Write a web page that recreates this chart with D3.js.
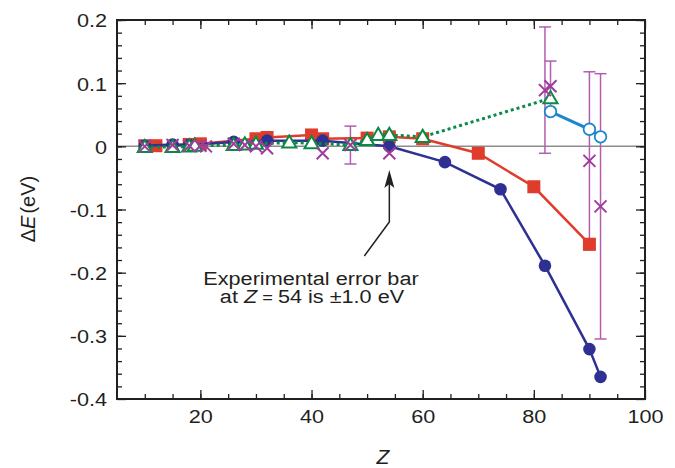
<!DOCTYPE html>
<html>
<head>
<meta charset="utf-8">
<script src="https://cdn.jsdelivr.net/npm/d3@7/dist/d3.min.js"></script>
<style>
    body { margin: 0; background: #fff; }
    text { font-family: "Liberation Sans", Arial, Helvetica, sans-serif; fill: #231f20; }
</style>
</head>
<body>
<div id="chart"></div>
<script>
// ---- data ----
var redZ   = [10, 12, 18, 20, 30, 32, 40, 42, 50, 54, 60, 70, 80, 90];
var redE   = [0.001, 0.001, 0.003, 0.004, 0.012, 0.014, 0.018, 0.012, 0.013, 0.015, 0.012, -0.011, -0.064, -0.155];

var blueZ  = [10, 15, 18, 26, 32, 42, 54, 64, 74, 82, 90, 92];
var blueE  = [0.001, 0.003, 0.002, 0.007, 0.009, 0.009, 0.0, -0.025, -0.068, -0.189, -0.321, -0.365];

var greenZ = [10, 15, 18, 19, 26, 28, 30, 36, 40, 47, 50, 52, 54, 60, 83];
var greenE = [-0.001, -0.001, 0.0, 0.001, 0.002, 0.003, 0.004, 0.006, 0.005, 0.002, 0.010, 0.018, 0.018, 0.015, 0.076];

var cyanZ  = [83, 90, 92];
var cyanE  = [0.055, 0.027, 0.015];

var crossZ   = [10, 15, 18, 20, 21, 26, 28, 30, 32, 42, 47, 54, 82, 83, 90, 92];
var crossE   = [0.0, 0.002, 0.001, 0.001, 0.0, 0.004, 0.002, 0.0, -0.003, -0.011, 0.002, -0.011, 0.089, 0.095, -0.023, -0.095];
var crossErr = [0, 0, 0, 0, 0, 0, 0, 0, 0, 0, 0.03, 0, 0.1, 0.04, 0.141, 0.21];

var xMajor = [20, 40, 60, 80, 100];
var yMajor = [-0.4, -0.3, -0.2, -0.1, 0, 0.1, 0.2];
var yLabels = ["-0.4", "-0.3", "-0.2", "-0.1", "0", "0.1", "0.2"];

// ---- layout ----
var W = 675, H = 468;
var margins = { left: 117, right: 645, top: 20, bottom: 399 };
var K = 1.14;   // the figure's lettering is a bit wider than Arial

var svg = d3.select("#chart").append("svg")
    .attr("width", W).attr("height", H);

var x = d3.scaleLinear().domain([5, 100]).range([margins.left, margins.right]);
var y = d3.scaleLinear().domain([-0.4, 0.2]).range([margins.bottom, margins.top]);

function pairs(zs, es) { return zs.map(function (z, i) { return { z: z, e: es[i], i: i }; }); }

// widen a text horizontally around its own anchor point
function widen(sel, k) {
    sel.each(function () {
        var t = d3.select(this);
        var px = +t.attr("x") || 0;
        t.attr("x", px / k).attr("transform", "scale(" + k + ",1)");
    });
}

// zero line
svg.append("line")
    .attr("x1", margins.left).attr("x2", margins.right)
    .attr("y1", y(0)).attr("y2", y(0))
    .attr("stroke", "#8c8c8c").attr("stroke-width", 1.5);

// ---- axes (ticks point inward on all four sides) ----
var minorX = d3.range(10, 100, 5);
var minorY = d3.range(-0.38, 0.2, 0.02).map(function (v) { return +v.toFixed(2); });
var fmtY = function (d) { return yLabels[yMajor.indexOf(d)]; };

function addAxis(axisFn, scale, values, size, fmt, transform) {
    var a = axisFn(scale).tickValues(values).tickSize(-size).tickSizeOuter(0);
    if (fmt) a.tickFormat(fmt); else a.tickFormat("");
    var g = svg.append("g").attr("transform", transform).call(a);
    g.select(".domain").remove();
    g.selectAll(".tick line").attr("stroke", "#231f20").attr("stroke-width", 1.3);
    return g;
}

addAxis(d3.axisBottom, x, minorX, 5, null, "translate(0," + margins.bottom + ")");
addAxis(d3.axisTop, x, minorX, 5, null, "translate(0," + margins.top + ")");
addAxis(d3.axisLeft, y, minorY, 5, null, "translate(" + margins.left + ",0)");
addAxis(d3.axisRight, y, minorY, 5, null, "translate(" + margins.right + ",0)");

var gx = addAxis(d3.axisBottom, x, xMajor, 9, function (d) { return d; }, "translate(0," + margins.bottom + ")");
gx.selectAll("text").attr("font-size", 19).attr("y", 11).attr("dy", "0.71em")
    .attr("font-family", null).attr("fill", "#231f20").call(widen, K);
addAxis(d3.axisTop, x, xMajor, 9, null, "translate(0," + margins.top + ")");

var gy = addAxis(d3.axisLeft, y, yMajor, 9, fmtY, "translate(" + margins.left + ",0)");
gy.selectAll("text").attr("font-size", 19).attr("x", -10).attr("dy", "0.36em")
    .attr("fill", "#231f20").call(widen, K);
addAxis(d3.axisRight, y, yMajor, 9, null, "translate(" + margins.right + ",0)");
svg.selectAll(".tick text").attr("font-family", null);
svg.selectAll("g").attr("font-family", null).attr("font-size", null);

// frame
svg.append("rect")
    .attr("x", margins.left).attr("y", margins.top)
    .attr("width", margins.right - margins.left).attr("height", margins.bottom - margins.top)
    .attr("fill", "none").attr("stroke", "#231f20").attr("stroke-width", 2);

// ---- error bars ----
var errData = pairs(crossZ, crossE).filter(function (d) { return crossErr[d.i] > 0; });
var eb = svg.append("g").attr("stroke", "#b45cb0").attr("stroke-width", 1.5).attr("fill", "none");
errData.forEach(function (d) {
    var lo = y(d.e - crossErr[d.i]), hi = y(d.e + crossErr[d.i]), cx = x(d.z);
    eb.append("line").attr("x1", cx).attr("x2", cx).attr("y1", hi).attr("y2", lo);
    eb.append("line").attr("x1", cx - 6).attr("x2", cx + 6).attr("y1", hi).attr("y2", hi);
    eb.append("line").attr("x1", cx - 6).attr("x2", cx + 6).attr("y1", lo).attr("y2", lo);
});

var line = d3.line().x(function (d) { return x(d.z); }).y(function (d) { return y(d.e); });

// red squares
var red = pairs(redZ, redE);
svg.append("path").datum(red).attr("d", line)
    .attr("fill", "none").attr("stroke", "#e03c2b").attr("stroke-width", 2.5);
svg.selectAll(".sq").data(red).join("rect").attr("class", "sq")
    .attr("x", function (d) { return x(d.z) - 6.5; })
    .attr("y", function (d) { return y(d.e) - 6.5; })
    .attr("width", 13).attr("height", 13)
    .attr("fill", "#e03c2b");

// blue filled circles
var blue = pairs(blueZ, blueE);
svg.append("path").datum(blue).attr("d", line)
    .attr("fill", "none").attr("stroke", "#2e3192").attr("stroke-width", 2.5);
svg.selectAll(".dot").data(blue).join("circle").attr("class", "dot")
    .attr("cx", function (d) { return x(d.z); })
    .attr("cy", function (d) { return y(d.e); })
    .attr("r", 6.3).attr("fill", "#2e3192");

// green open triangles, dotted
var green = pairs(greenZ, greenE);
svg.append("path").datum(green).attr("d", line)
    .attr("fill", "none").attr("stroke", "#0a8a45").attr("stroke-width", 3)
    .attr("stroke-dasharray", "3,3");
var tri = d3.symbol().type(d3.symbolTriangle).size(85);
svg.selectAll(".tri").data(green).join("path").attr("class", "tri")
    .attr("d", tri)
    .attr("transform", function (d) { return "translate(" + x(d.z) + "," + (y(d.e) + 1) + ")"; })
    .attr("fill", "#fff").attr("stroke", "#0a8a45").attr("stroke-width", 2);

// cyan open circles
var cyan = pairs(cyanZ, cyanE);
svg.append("path").datum(cyan).attr("d", line)
    .attr("fill", "none").attr("stroke", "#1b87cc").attr("stroke-width", 3);
svg.selectAll(".oc").data(cyan).join("circle").attr("class", "oc")
    .attr("cx", function (d) { return x(d.z); })
    .attr("cy", function (d) { return y(d.e); })
    .attr("r", 5.8).attr("fill", "#fff")
    .attr("stroke", "#1b87cc").attr("stroke-width", 1.8);

// purple crosses
var cross = pairs(crossZ, crossE);
svg.selectAll(".cr").data(cross).join("path").attr("class", "cr")
    .attr("d", "M-6,-6L6,6M-6,6L6,-6")
    .attr("transform", function (d) { return "translate(" + x(d.z) + "," + y(d.e) + ")"; })
    .attr("stroke", "#a13c9f").attr("stroke-width", 2).attr("fill", "none");

// ---- annotation ----
var ax = x(54);
svg.append("path")
    .attr("d", "M" + (ax - 25) + ",256L" + ax + ",222L" + ax + ",184")
    .attr("fill", "none").attr("stroke", "#231f20").attr("stroke-width", 1.5);
svg.append("path")
    .attr("d", "M" + ax + ",170L" + (ax + 5) + ",188L" + ax + ",184L" + (ax - 5) + ",188Z")
    .attr("fill", "#231f20");

var t1 = svg.append("text").attr("x", 311).attr("y", 285)
    .attr("text-anchor", "middle").attr("font-size", 19)
    .text("Experimental error bar");
t1.call(widen, K);
var t2 = svg.append("text").attr("x", 312).attr("y", 303)
    .attr("text-anchor", "middle").attr("font-size", 19);
t2.append("tspan").text("at ");
t2.append("tspan").attr("font-style", "italic").text("Z");
t2.append("tspan").attr("font-size", 16).text(" = ");
t2.append("tspan").text("54 is \u00b11.0 eV");
t2.call(widen, K);

// axis titles
svg.append("text").attr("x", 383).attr("y", 464)
    .attr("text-anchor", "middle").attr("font-size", 21)
    .attr("font-style", "italic").text("Z");

var yt = svg.append("text")
    .attr("transform", "translate(35,209) rotate(-90)")
    .attr("text-anchor", "middle").attr("font-size", 20);
yt.append("tspan").text("\u0394");
yt.append("tspan").attr("font-style", "italic").text("E");
yt.append("tspan").attr("dx", 2).text("(eV)");
</script>
</body>
</html>
